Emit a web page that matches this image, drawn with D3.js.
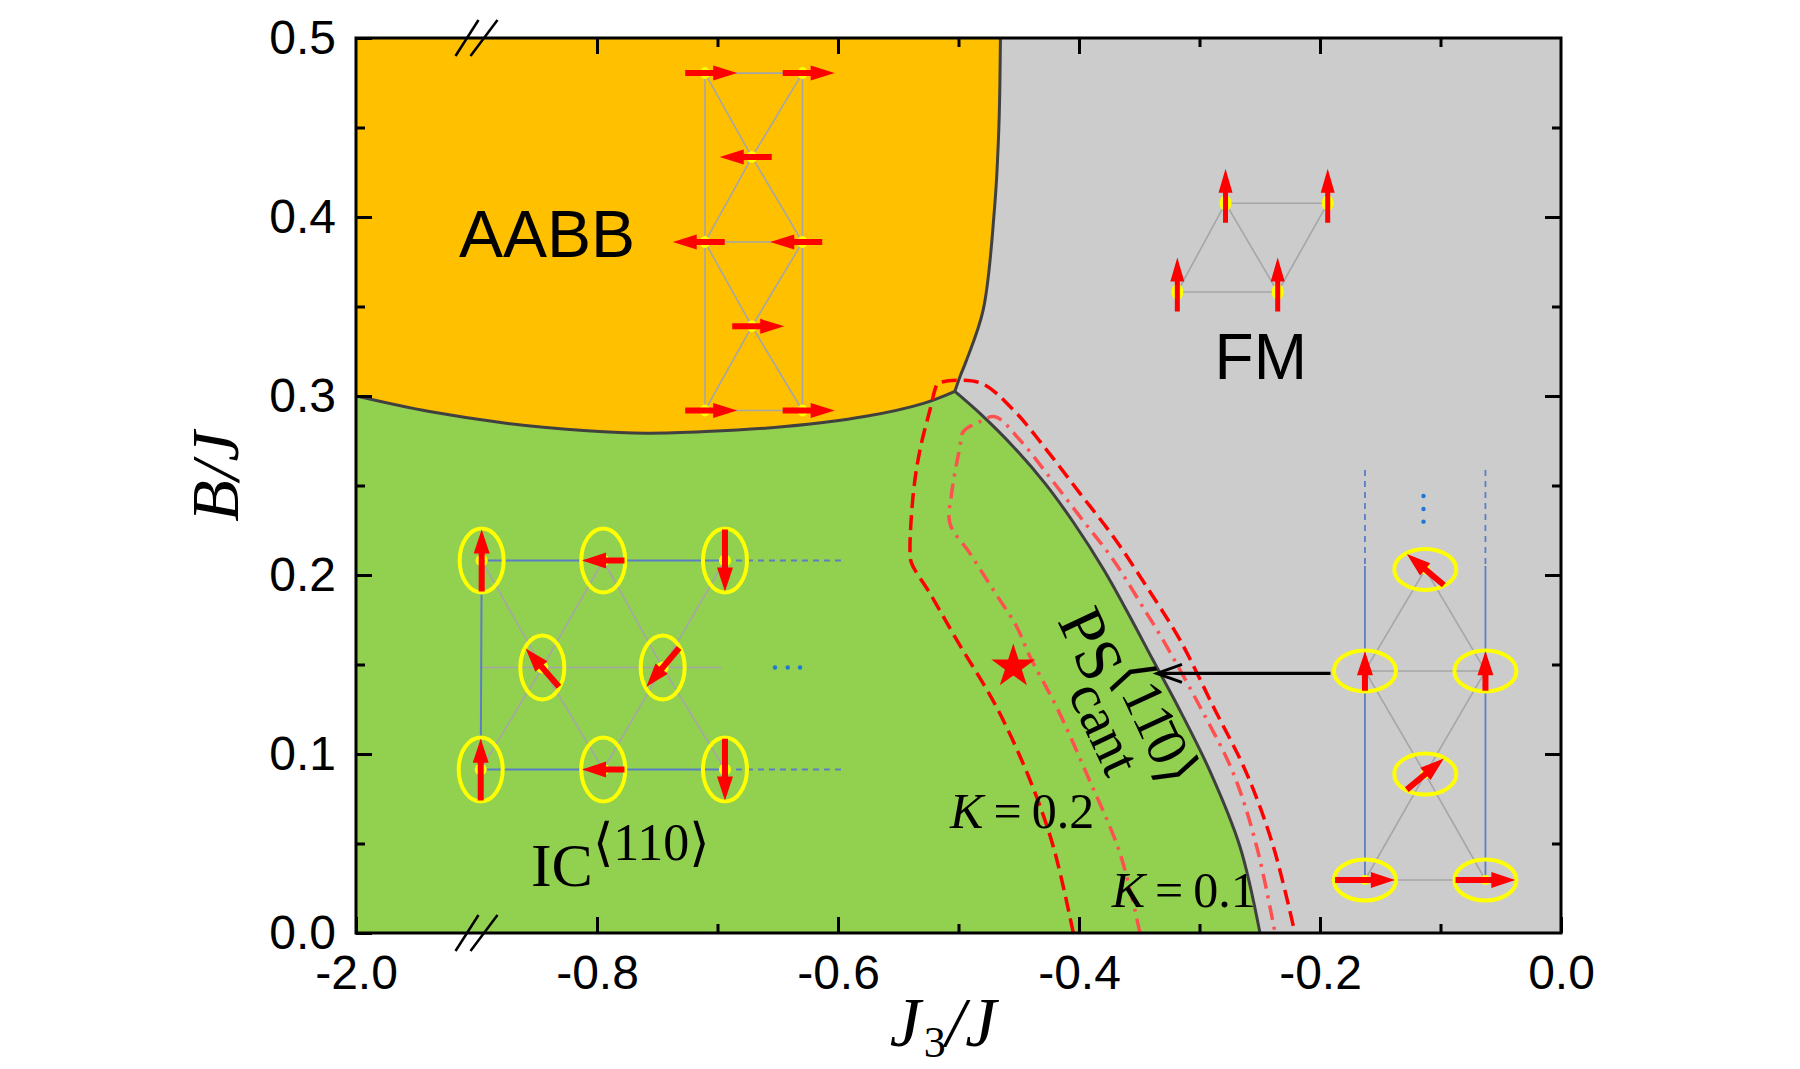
<!DOCTYPE html>
<html>
<head>
<meta charset="utf-8">
<script src="https://cdn.jsdelivr.net/npm/d3@7"></script>
<style>
  body { margin: 0; background: #fff; }
</style>
</head>
<body>
<div id="chart"></div>
<script>
// ---- axis ticks (x axis is broken: the left end stands for -2.0) ----
const xMajor = [-1.0, -0.8, -0.6, -0.4, -0.2, 0.0];
const xMajorLabels = ["-2.0", "-0.8", "-0.6", "-0.4", "-0.2", "0.0"];
const xMinor = [-0.7, -0.5, -0.3, -0.1];
const xBreak = -0.9;
const yMajor = [0, 0.1, 0.2, 0.3, 0.4, 0.5];
const yMajorLabels = ["0.0", "0.1", "0.2", "0.3", "0.4", "0.5"];
const yMinor = [0.05, 0.15, 0.25, 0.35, 0.45];

// ---- phase boundaries, [J3/J, B/J] ----
const aabbIcLine = [[-1.0, 0.300], [-0.939, 0.2913], [-0.874, 0.2847], [-0.808, 0.2806], [-0.759, 0.2792],
  [-0.710, 0.2801], [-0.644, 0.2829], [-0.578, 0.2885], [-0.529, 0.2959], [-0.503, 0.3026]];
const aabbFmLine = [[-0.503, 0.3026], [-0.4988, 0.3108], [-0.4938, 0.3192], [-0.4795, 0.3481],
  [-0.470, 0.4058], [-0.4665, 0.45], [-0.4652, 0.5]];
const icFmLine = [[-0.503, 0.3026], [-0.4822, 0.2903], [-0.4545, 0.2717], [-0.4282, 0.2512], [-0.4041, 0.2289],
  [-0.3793, 0.2028], [-0.3577, 0.1767], [-0.3386, 0.1525], [-0.3178, 0.1264], [-0.2905, 0.0892],
  [-0.2664, 0.0482], [-0.2498, 0.0]];

// K = 0.2 (dashed) and K = 0.1 (dash-dot) boundaries
const k02Line = [[-0.4047, 0.0], [-0.4213, 0.0482], [-0.4407, 0.0855], [-0.4686, 0.1264], [-0.5015, 0.1637],
  [-0.5237, 0.1898], [-0.5389, 0.2065], [-0.5402, 0.2121], [-0.5375, 0.2456], [-0.532, 0.2698],
  [-0.5237, 0.2922], [-0.5181, 0.3061], [-0.5160, 0.3074], [-0.4822, 0.3074], [-0.4545, 0.2922],
  [-0.4268, 0.2698], [-0.3992, 0.2456], [-0.3715, 0.2214], [-0.3438, 0.1934], [-0.3162, 0.1637],
  [-0.2885, 0.1264], [-0.2609, 0.0892], [-0.2387, 0.0482], [-0.2208, 0.0]];
const k01Line = [[-0.3494, 0.0], [-0.3660, 0.0445], [-0.3938, 0.0892], [-0.4187, 0.1264], [-0.4407, 0.1544],
  [-0.4517, 0.1711], [-0.4711, 0.1916], [-0.4905, 0.2121], [-0.5071, 0.2288], [-0.5057, 0.2456],
  [-0.4988, 0.2717], [-0.4960, 0.2801], [-0.4822, 0.2857], [-0.4697, 0.2884], [-0.4490, 0.2754],
  [-0.4268, 0.2568], [-0.3992, 0.2326], [-0.3715, 0.2084], [-0.3438, 0.1786], [-0.3303, 0.1637],
  [-0.2996, 0.1264], [-0.2719, 0.0892], [-0.2525, 0.0482], [-0.2373, 0.0]];
const starPoint = [-0.4545, 0.1488];

// ---- spin-structure insets: [J3/J, B/J, spin angle in degrees] ----
const aabbSpins = [[-0.7104, 0.4804, 0], [-0.6295, 0.4804, 0], [-0.6714, 0.4335, 180],
  [-0.7104, 0.3860, 180], [-0.6295, 0.3860, 180], [-0.6714, 0.3389, 0],
  [-0.7104, 0.2919, 0], [-0.6295, 0.2919, 0]];
const aabbBonds = [[0, 6], [1, 7], [0, 1], [3, 4], [6, 7], [0, 2], [2, 1], [3, 2], [2, 4], [3, 5], [5, 4], [6, 5], [5, 7]];

const fmSpins = [[-0.2784, 0.4077, 90], [-0.1936, 0.4077, 90], [-0.3184, 0.3581, 90], [-0.2351, 0.3581, 90]];
const fmBonds = [[0, 1], [2, 3], [2, 0], [0, 3], [3, 1]];

const icSpins = [[-0.8957, 0.2081, 90], [-0.7948, 0.2081, 180], [-0.6938, 0.2081, 270],
  [-0.8454, 0.1483, 131], [-0.7455, 0.1483, 230],
  [-0.8965, 0.0913, 90], [-0.7948, 0.0913, 180], [-0.6938, 0.0913, 270]];
const icGrayBonds = [[0, 3], [1, 3], [1, 4], [2, 4], [5, 3], [6, 3], [6, 4], [7, 4]];
const icBlueBonds = [[0, 2], [5, 7], [0, 5]];
const icMidRow = [[-0.8957, 0.1483], [-0.6965, 0.1483]];
const icDashedRows = [[[-0.6938, 0.2081], [-0.5959, 0.2081]], [[-0.6938, 0.0913], [-0.5959, 0.0913]]];
const icDots = [[-0.6523, 0.1483], [-0.6417, 0.1483], [-0.6315, 0.1483]];

const psSpins = [[-0.1126, 0.2031, 140], [-0.1627, 0.1464, 90], [-0.0627, 0.1464, 90],
  [-0.1126, 0.0888, 40], [-0.1627, 0.0296, 0], [-0.0627, 0.0296, 0]];
const psGrayBonds = [[0, 1], [0, 2], [1, 2], [1, 3], [2, 3], [3, 4], [3, 5], [4, 5]];
const psSolidCols = [[[-0.1627, 0.205], [-0.1627, 0.0296]], [[-0.0627, 0.205], [-0.0627, 0.0296]]];
const psDashedCols = [[[-0.1627, 0.2587], [-0.1627, 0.205]], [[-0.0627, 0.2587], [-0.0627, 0.205]]];
const psDots = [[-0.1141, 0.2441], [-0.1141, 0.2369], [-0.1141, 0.2298]];
const psPointer = [[-0.1913, 0.145], [-0.3353, 0.145]];

// ---- layout ----
const W = 1800, H = 1069;
const margin = {top: 38, right: 239, bottom: 136, left: 356};
const width = W - margin.left - margin.right,
      height = H - margin.top - margin.bottom;

const svg = d3.select("#chart").append("svg")
  .attr("width", W).attr("height", H);

const x = d3.scaleLinear().domain([-1, 0]).range([margin.left, margin.left + width]);
const y = d3.scaleLinear().domain([0, 0.5]).range([margin.top + height, margin.top]);

svg.append("clipPath").attr("id", "plotclip")
  .append("rect").attr("x", x(-1)).attr("y", y(0.5)).attr("width", width).attr("height", height);

const plot = svg.append("g").attr("clip-path", "url(#plotclip)");

const smooth = d3.line().x(d => x(d[0])).y(d => y(d[1])).curve(d3.curveCatmullRom.alpha(0.5));
const cont = pts => smooth(pts).replace(/^M/, "L");
const pt = d => `L${x(d[0])},${y(d[1])}`;

// background = FM (gray)
plot.append("rect").attr("x", x(-1)).attr("y", y(0.5))
  .attr("width", width).attr("height", height).attr("fill", "#cccccc");

// AABB region
plot.append("path")
  .attr("d", smooth(aabbIcLine) + cont(aabbFmLine) + pt([-1, 0.5]) + "Z")
  .attr("fill", "#ffc000");

// IC region
plot.append("path")
  .attr("d", smooth(aabbIcLine) + cont(icFmLine) + pt([-1, 0]) + "Z")
  .attr("fill", "#92d050");

// boundaries
[aabbIcLine, aabbFmLine, icFmLine].forEach(l => {
  plot.append("path").attr("d", smooth(l))
    .attr("fill", "none").attr("stroke", "#404040").attr("stroke-width", 3);
});

plot.append("path").attr("d", smooth(k02Line))
  .attr("fill", "none").attr("stroke", "#ff0000").attr("stroke-width", 3.5)
  .attr("stroke-dasharray", "15,7");
plot.append("path").attr("d", smooth(k01Line))
  .attr("fill", "none").attr("stroke", "#ff5050").attr("stroke-width", 3.5)
  .attr("stroke-dasharray", "15,7,3,7");

// ---- helpers for the spin insets ----
function arrowPoly(cx, cy, angDeg, L, f, sw, hw, hl) {
  const a = angDeg * Math.PI / 180;
  const dx = Math.cos(a), dy = -Math.sin(a);
  const px = -dy, py = dx;
  const t0 = -f * L, t1 = (1 - f) * L, tn = t1 - hl;
  const local = [[t0, -sw / 2], [tn, -sw / 2], [tn, -hw / 2], [t1, 0], [tn, hw / 2], [tn, sw / 2], [t0, sw / 2]];
  return local.map(([u, v]) => [cx + u * dx + v * px, cy + u * dy + v * py].join(",")).join(" ");
}
function ellipseR(rx, ry, angDeg) {
  const a = angDeg * Math.PI / 180;
  return rx * ry / Math.sqrt(Math.pow(ry * Math.cos(a), 2) + Math.pow(rx * Math.sin(a), 2));
}
function bonds(g, nodes, pairs, color, w) {
  g.selectAll(null).data(pairs).enter().append("line")
    .attr("x1", d => x(nodes[d[0]][0])).attr("y1", d => y(nodes[d[0]][1]))
    .attr("x2", d => x(nodes[d[1]][0])).attr("y2", d => y(nodes[d[1]][1]))
    .attr("stroke", color).attr("stroke-width", w);
}
function segs(g, list, color, w, dash) {
  g.selectAll(null).data(list).enter().append("line")
    .attr("x1", d => x(d[0][0])).attr("y1", d => y(d[0][1]))
    .attr("x2", d => x(d[1][0])).attr("y2", d => y(d[1][1]))
    .attr("stroke", color).attr("stroke-width", w)
    .attr("stroke-dasharray", dash || null);
}
function dots(g, list, rx, ry, color) {
  g.selectAll(null).data(list).enter().append("ellipse")
    .attr("cx", d => x(d[0])).attr("cy", d => y(d[1]))
    .attr("rx", rx).attr("ry", ry).attr("fill", color);
}

const gray = "#a6a6a6", blue = "#5b7fc4";

// AABB inset
const gA = plot.append("g");
bonds(gA, aabbSpins, aabbBonds, gray, 1.6);
dots(gA, aabbSpins, 5, 6, "#ffff00");
gA.selectAll(null).data(aabbSpins).enter().append("polygon")
  .attr("points", d => arrowPoly(x(d[0]), y(d[1]), d[2], 52, 0.38, 6, 15, 24))
  .attr("fill", "#ff0000");

// FM inset
const gF = plot.append("g");
bonds(gF, fmSpins, fmBonds, gray, 1.6);
dots(gF, fmSpins, 6, 8, "#ffff00");
gF.selectAll(null).data(fmSpins).enter().append("polygon")
  .attr("points", d => arrowPoly(x(d[0]), y(d[1]), d[2], 54, 0.36, 5, 14, 24))
  .attr("fill", "#ff0000");

// IC inset
const gI = plot.append("g");
bonds(gI, icSpins, icGrayBonds, gray, 1.6);
segs(gI, [icMidRow], gray, 1.6);
bonds(gI, icSpins, icBlueBonds, blue, 2);
segs(gI, icDashedRows, blue, 2, "6,5");
dots(gI, icDots, 2.2, 2.2, "#1f77d4");
dots(gI, icSpins, 6, 6, "#ffff00");
gI.selectAll(null).data(icSpins).enter().append("ellipse")
  .attr("cx", d => x(d[0])).attr("cy", d => y(d[1]))
  .attr("rx", 22).attr("ry", 32)
  .attr("fill", "none").attr("stroke", "#ffff00").attr("stroke-width", 4);
gI.selectAll(null).data(icSpins).enter().append("polygon")
  .attr("points", d => arrowPoly(x(d[0]), y(d[1]), d[2], 1.93 * ellipseR(22, 32, d[2]), 0.5, 6, 16, 24))
  .attr("fill", "#ff0000");

// PS inset
const gP = plot.append("g");
bonds(gP, psSpins, psGrayBonds, gray, 1.6);
segs(gP, psSolidCols, blue, 1.8);
segs(gP, psDashedCols, blue, 1.8, "6,5");
dots(gP, psDots, 2.2, 2.2, "#1f77d4");
dots(gP, psSpins, 5, 5, "#ffff00");
gP.selectAll(null).data(psSpins).enter().append("ellipse")
  .attr("cx", d => x(d[0])).attr("cy", d => y(d[1]))
  .attr("rx", 31).attr("ry", 20.5)
  .attr("fill", "none").attr("stroke", "#ffff00").attr("stroke-width", 4);
gP.selectAll(null).data(psSpins).enter().append("polygon")
  .attr("points", d => arrowPoly(x(d[0]), y(d[1]), d[2], 1.93 * ellipseR(31, 20.5, d[2]), 0.5, 6, 16, 24))
  .attr("fill", "#ff0000");

// pointer arrow from the PS inset to the boundary
const tip = [x(psPointer[1][0]), y(psPointer[1][1])];
plot.append("line")
  .attr("x1", x(psPointer[0][0])).attr("y1", y(psPointer[0][1]))
  .attr("x2", tip[0] + 2).attr("y2", tip[1])
  .attr("stroke", "#000").attr("stroke-width", 3.2);
plot.append("path")
  .attr("d", `M${tip[0] + 25},${tip[1] - 9} L${tip[0]},${tip[1]} L${tip[0] + 25},${tip[1] + 9}`)
  .attr("fill", "none").attr("stroke", "#000").attr("stroke-width", 3);

// star
plot.append("path")
  .attr("d", d3.symbol(d3.symbolStar, 600)())
  .attr("transform", `translate(${x(starPoint[0])},${y(starPoint[1])})`)
  .attr("fill", "#ff0000");

// ---- labels inside the plot ----
const sans = "'Liberation Sans', Arial, sans-serif";
const serif = "'Liberation Serif', 'Times New Roman', 'DejaVu Serif', serif";

svg.append("text").attr("x", x(-0.9145)).attr("y", y(0.3777))
  .attr("font-family", sans).attr("font-size", 66).text("AABB");
svg.append("text").attr("x", x(-0.2875)).attr("y", y(0.3095))
  .attr("font-family", sans).attr("font-size", 64).text("FM");

const ic = svg.append("text").attr("x", x(-0.8548)).attr("y", y(0.0263))
  .attr("font-family", serif).attr("font-size", 62);
ic.append("tspan").text("IC");
ic.append("tspan").attr("dy", -26).attr("font-size", 52).text("\u27E8110\u27E9");

const ps = svg.append("text")
  .attr("transform", `translate(${x(-0.4182)},${y(0.1745)}) rotate(65)`)
  .attr("font-family", serif).attr("font-size", 64);
ps.append("tspan").text("PS");
ps.append("tspan").attr("x", 70).attr("dy", -27).attr("font-size", 57).text("\u27E811\u03040\u27E9");
ps.append("tspan").attr("x", 70).attr("dy", 48).attr("font-size", 57).text("cant");

function kLabel(px, py, val) {
  const t = svg.append("text").attr("x", x(px)).attr("y", y(py))
    .attr("font-family", serif).attr("font-size", 50);
  t.append("tspan").attr("font-style", "italic").text("K");
  t.append("tspan").text("\u2009=\u2009" + val);
}
kLabel(-0.507, 0.0587, "0.2");
kLabel(-0.3729, 0.0147, "0.1");

// ---- axes ----
const tickStroke = g => g.selectAll(".tick line").attr("stroke", "#000").attr("stroke-width", 3);
const noDomain = g => g.select(".domain").remove();

const bottom = svg.append("g").attr("transform", `translate(0,${y(0)})`)
  .call(d3.axisBottom(x).tickValues(xMajor).tickFormat((d, i) => xMajorLabels[i])
    .tickSizeInner(-16).tickSizeOuter(0).tickPadding(22))
  .call(noDomain).call(tickStroke);
bottom.selectAll("text").attr("font-family", sans).attr("font-size", 48).attr("fill", "#000");
svg.append("g").attr("transform", `translate(0,${y(0)})`)
  .call(d3.axisBottom(x).tickValues(xMinor).tickFormat("").tickSizeInner(-9).tickSizeOuter(0))
  .call(noDomain).call(tickStroke);

svg.append("g").attr("transform", `translate(0,${y(0.5)})`)
  .call(d3.axisTop(x).tickValues(xMajor.slice(1, -1)).tickFormat("").tickSizeInner(-16).tickSizeOuter(0))
  .call(noDomain).call(tickStroke);
svg.append("g").attr("transform", `translate(0,${y(0.5)})`)
  .call(d3.axisTop(x).tickValues(xMinor).tickFormat("").tickSizeInner(-9).tickSizeOuter(0))
  .call(noDomain).call(tickStroke);

const left = svg.append("g").attr("transform", `translate(${x(-1)},0)`)
  .call(d3.axisLeft(y).tickValues(yMajor).tickFormat((d, i) => yMajorLabels[i])
    .tickSizeInner(-16).tickSizeOuter(0).tickPadding(20))
  .call(noDomain).call(tickStroke);
left.selectAll("text").attr("font-family", sans).attr("font-size", 48).attr("fill", "#000");
svg.append("g").attr("transform", `translate(${x(-1)},0)`)
  .call(d3.axisLeft(y).tickValues(yMinor).tickFormat("").tickSizeInner(-9).tickSizeOuter(0))
  .call(noDomain).call(tickStroke);

svg.append("g").attr("transform", `translate(${x(0)},0)`)
  .call(d3.axisRight(y).tickValues(yMajor.slice(1, -1)).tickFormat("").tickSizeInner(-16).tickSizeOuter(0))
  .call(noDomain).call(tickStroke);
svg.append("g").attr("transform", `translate(${x(0)},0)`)
  .call(d3.axisRight(y).tickValues(yMinor).tickFormat("").tickSizeInner(-9).tickSizeOuter(0))
  .call(noDomain).call(tickStroke);

// frame
svg.append("rect").attr("x", x(-1)).attr("y", y(0.5)).attr("width", width).attr("height", height)
  .attr("fill", "none").attr("stroke", "#000").attr("stroke-width", 3);

// axis break marks
[y(0), y(0.5)].forEach(yy => {
  const bx = x(xBreak);
  [[-21, 2], [-6, 21]].forEach(([a, b]) => {
    svg.append("line")
      .attr("x1", bx + a).attr("y1", yy + 18).attr("x2", bx + b).attr("y2", yy - 18)
      .attr("stroke", "#000").attr("stroke-width", 2.5);
  });
});

// axis titles
const xt = svg.append("text").attr("x", 943).attr("y", 1046)
  .attr("text-anchor", "middle").attr("font-family", serif).attr("font-size", 70);
xt.append("tspan").attr("font-style", "italic").text("J");
xt.append("tspan").attr("font-size", 44).attr("dx", 3).attr("dy", 11).text("3");
xt.append("tspan").attr("font-style", "italic").attr("dy", -11).text("/J");

svg.append("text")
  .attr("transform", `translate(238,${(y(0) + y(0.5)) / 2 - 9}) rotate(-90)`)
  .attr("text-anchor", "middle").attr("font-family", serif).attr("font-size", 68)
  .attr("font-style", "italic").text("B/J");
</script>
</body>
</html>
